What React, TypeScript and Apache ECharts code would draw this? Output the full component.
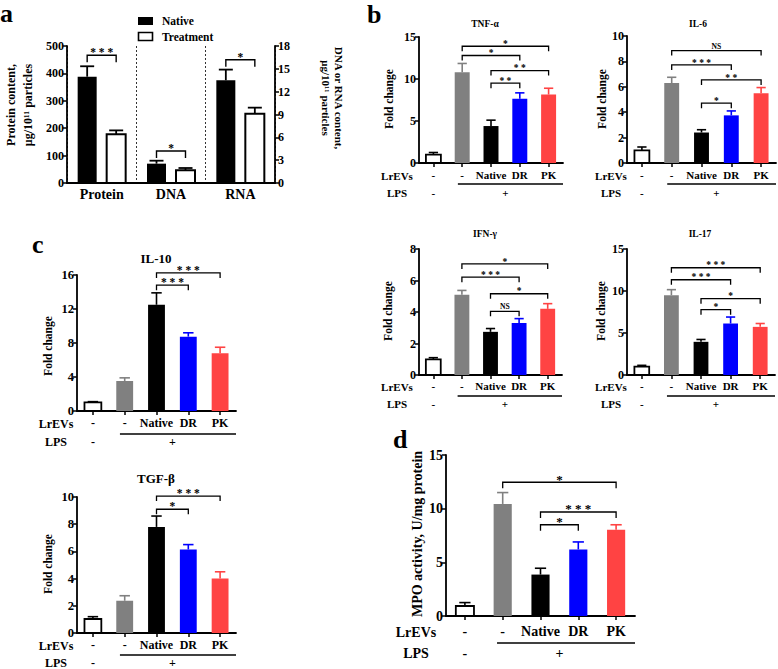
import React, { useEffect, useRef } from 'react';
import * as echarts from 'echarts';

const FONT = "'Liberation Serif', 'Times New Roman', Times, serif";

// ---------- Panel a ----------
const aCategories = ['Protein', 'DNA', 'RNA'];
const aAxisOf = [0, 1, 1]; // 0 = left axis (protein), 1 = right axis (DNA / RNA)
const aNative = [388, 2.54, 13.5];
const aNativeErr = [426, 2.93, 14.9];
const aTreatment = [178, 1.66, 9.1];
const aTreatmentErr = [192, 1.97, 9.9];
const aSig: [number, number, string][] = [[0, 466, '* * *'], [1, 4.2, '*'], [2, 16.2, '*']];

// ---------- Panels b, c, d ----------
const groupLabels = ['-', '-', 'Native', 'DR', 'PK'];

const tnfValues = [1.0, 10.8, 4.4, 7.65, 8.15];
const tnfErrTop = [1.25, 11.85, 5.1, 8.35, 8.9];
const tnfSig: [number, number, number, string][] = [[1, 4, 13.9, '*'], [1, 3, 12.8, '*'], [2, 4, 11.0, '* *'], [2, 3, 9.5, '* *']];

const il6Values = [1.0, 6.3, 2.4, 3.75, 5.5];
const il6ErrTop = [1.26, 6.75, 2.62, 4.1, 5.94];
const il6Sig: [number, number, number, string][] = [[1, 4, 8.85, 'NS'], [1, 3, 7.72, '* * *'], [2, 4, 6.54, '* *'], [2, 3, 4.71, '*']];

const ifnValues = [0.99, 5.09, 2.74, 3.3, 4.2];
const ifnErrTop = [1.1, 5.37, 2.95, 3.58, 4.53];
const ifnSig: [number, number, number, string][] = [[1, 4, 7.05, '*'], [1, 3, 6.21, '* * *'], [2, 4, 5.16, '*'], [2, 3, 4.04, 'NS']];

const il17Values = [1.0, 9.5, 3.95, 6.13, 5.73];
const il17ErrTop = [1.15, 10.16, 4.23, 6.9, 6.13];
const il17Sig: [number, number, number, string][] = [[1, 4, 12.77, '* * *'], [1, 3, 11.34, '* * *'], [2, 4, 9.09, '*'], [2, 3, 7.78, '*']];

const il10Values = [1.02, 3.52, 12.5, 8.75, 6.8];
const il10ErrTop = [1.1, 3.9, 13.9, 9.2, 7.5];
const il10Sig: [number, number, number, string][] = [[2, 4, 16.25, '* * *'], [2, 3, 14.8, '* * *']];

const tgfValues = [1.03, 2.37, 7.8, 6.14, 4.0];
const tgfErrTop = [1.2, 2.74, 8.6, 6.5, 4.5];
const tgfSig: [number, number, number, string][] = [[2, 4, 10.07, '* * *'], [2, 3, 9.1, '*']];

const mpoValues = [0.93, 10.44, 3.86, 6.2, 8.04];
const mpoErrTop = [1.25, 11.5, 4.45, 6.9, 8.5];
const mpoSig: [number, number, number, string][] = [[1, 4, 12.46, '*'], [2, 4, 9.69, '* * *'], [2, 3, 8.5, '*']];

// ---------- styles ----------
const FILLS = ['#ffffff', '#808080', '#000000', '#0000ff', '#ff4343'];
const STROKES = ['#000000', '', '', '', ''];
const ERR_COLORS = ['#000000', '#808080', '#000000', '#0000ff', '#ff4343'];

interface Panel {
  values: number[]; errs: number[]; sig: [number, number, number, string][];
  left: number; top: number; width: number; height: number; max: number; interval: number;
  title?: string; titleX?: number; titleY?: number; titleSize?: number;
  yName: string; yNameX: number; yNameY: number; yNameSize: number;
  tickSize: number; catSize: number; rowSize: number; sigSize: number; bracketTick: number;
  row1Y: number; lineY: number; row2Y: number; rowX: number; barFrac: number;
}

const panels: Panel[] = [
  { values: tnfValues, errs: tnfErrTop, sig: tnfSig, left: 419, top: 37, width: 144, height: 126, max: 15, interval: 5,
    title: 'TNF-\u03b1', titleX: 485, titleY: 23.5, titleSize: 9.5, yName: 'Fold change', yNameX: 389, yNameY: 99, yNameSize: 11.5,
    tickSize: 12, catSize: 11, rowSize: 11, sigSize: 9.5, bracketTick: 5, row1Y: 176, lineY: 184, row2Y: 193, rowX: 397, barFrac: 0.52 },
  { values: il6Values, errs: il6ErrTop, sig: il6Sig, left: 627, top: 36, width: 149, height: 127, max: 10, interval: 2,
    title: 'IL-6', titleX: 698, titleY: 23.5, titleSize: 9.5, yName: 'Fold change', yNameX: 602, yNameY: 99, yNameSize: 11.5,
    tickSize: 12, catSize: 11, rowSize: 11, sigSize: 9.5, bracketTick: 5, row1Y: 176, lineY: 184, row2Y: 193, rowX: 611, barFrac: 0.5 },
  { values: ifnValues, errs: ifnErrTop, sig: ifnSig, left: 419, top: 249, width: 143, height: 126, max: 8, interval: 2,
    title: 'IFN-\u03b3', titleX: 485, titleY: 233.5, titleSize: 9.5, yName: 'Fold change', yNameX: 388, yNameY: 311, yNameSize: 11.5,
    tickSize: 12, catSize: 11, rowSize: 11, sigSize: 9.5, bracketTick: 5, row1Y: 387, lineY: 396, row2Y: 404, rowX: 397, barFrac: 0.52 },
  { values: il17Values, errs: il17ErrTop, sig: il17Sig, left: 627, top: 249, width: 148, height: 126, max: 15, interval: 5,
    title: 'IL-17', titleX: 700, titleY: 233.5, titleSize: 9.5, yName: 'Fold change', yNameX: 601, yNameY: 311, yNameSize: 11.5,
    tickSize: 12, catSize: 11, rowSize: 11, sigSize: 9.5, bracketTick: 5, row1Y: 387, lineY: 396, row2Y: 404, rowX: 611, barFrac: 0.5 },
  { values: il10Values, errs: il10ErrTop, sig: il10Sig, left: 77, top: 275, width: 159, height: 136, max: 16, interval: 4,
    title: 'IL-10', titleX: 156, titleY: 258, titleSize: 13, yName: 'Fold change', yNameX: 48, yNameY: 346, yNameSize: 11.5,
    tickSize: 12.5, catSize: 12, rowSize: 12, sigSize: 11.5, bracketTick: 5, row1Y: 424, lineY: 434, row2Y: 442, rowX: 56, barFrac: 0.53 },
  { values: tgfValues, errs: tgfErrTop, sig: tgfSig, left: 77, top: 497, width: 159, height: 136, max: 10, interval: 2,
    title: 'TGF-\u03b2', titleX: 156, titleY: 478, titleSize: 13, yName: 'Fold change', yNameX: 48, yNameY: 564, yNameSize: 11.5,
    tickSize: 12.5, catSize: 12, rowSize: 12, sigSize: 11.5, bracketTick: 5, row1Y: 646, lineY: 655, row2Y: 663, rowX: 56, barFrac: 0.53 },
  { values: mpoValues, errs: mpoErrTop, sig: mpoSig, left: 446, top: 455, width: 189, height: 161, max: 15, interval: 5,
    yName: 'MPO activity, U/mg protein', yNameX: 417, yNameY: 534, yNameSize: 14,
    tickSize: 14, catSize: 14, rowSize: 14, sigSize: 13, bracketTick: 6, row1Y: 632, lineY: 643, row2Y: 653, rowX: 416, barFrac: 0.48 },
];

const txt = (text: string, x: number, y: number, size: number, o: any = {}) => {
  const style: any = {
    text, fill: '#000', fontFamily: FONT, fontWeight: 'bold', fontSize: size,
    align: o.align || 'center', verticalAlign: o.va || 'middle',
  };
  if (o.lineHeight) style.lineHeight = o.lineHeight;
  return { type: 'text', x, y, rotation: o.rotation || 0, silent: true, style };
};

function barRenderer(frac: number) {
  return (params: any, api: any) => {
    const idx = params.dataIndex;
    const cat = api.value(0);
    const base = api.coord([cat, 0]);
    const top = api.coord([cat, api.value(1)]);
    const err = api.coord([cat, api.value(2)]);
    const band = api.size([1, 0])[0];
    const w = band * frac;
    const cw = w * 0.62;
    const cx = top[0];
    const ec = ERR_COLORS[idx];
    const rs: any = { fill: FILLS[idx] };
    if (STROKES[idx]) { rs.stroke = STROKES[idx]; rs.lineWidth = 1.8; }
    return {
      type: 'group',
      children: [
        { type: 'line', shape: { x1: cx, y1: top[1], x2: cx, y2: err[1] }, style: { stroke: ec, lineWidth: 1.6 } },
        { type: 'line', shape: { x1: cx - cw / 2, y1: err[1], x2: cx + cw / 2, y2: err[1] }, style: { stroke: ec, lineWidth: 1.6 } },
        { type: 'rect', shape: { x: cx - w / 2, y: top[1], width: w, height: base[1] - top[1] }, style: rs },
      ],
    };
  };
}

function sigText(label: string, x: number, y: number, size: number) {
  if (label === 'NS') return txt('NS', x, y - 0.5, size * 0.8, { va: 'bottom' });
  return txt(label, x, y - size * 0.25, size);
}

function bracketRenderer(labels: string[], size: number, tick: number) {
  return (params: any, api: any) => {
    const a = api.coord([api.value(0), api.value(2)]);
    const b = api.coord([api.value(1), api.value(2)]);
    return {
      type: 'group',
      children: [
        { type: 'polyline', shape: { points: [[a[0], a[1] + tick], [a[0], a[1]], [b[0], b[1]], [b[0], b[1] + tick]] },
          style: { stroke: '#000', fill: 'none', lineWidth: 1.3 } },
        sigText(labels[params.dataIndex], (a[0] + b[0]) / 2, a[1], size),
      ],
    };
  };
}

function pairRenderer(offset: number, widthPx: number, fill: string, stroke: string) {
  return (params: any, api: any) => {
    const cat = api.value(0);
    const base = api.coord([cat, 0]);
    const top = api.coord([cat, api.value(1)]);
    const err = api.coord([cat, api.value(2)]);
    const cx = top[0] + offset;
    const rs: any = { fill };
    if (stroke) { rs.stroke = stroke; rs.lineWidth = 2; }
    return {
      type: 'group',
      children: [
        { type: 'line', shape: { x1: cx, y1: top[1], x2: cx, y2: err[1] }, style: { stroke: '#000', lineWidth: 1.8 } },
        { type: 'line', shape: { x1: cx - 7, y1: err[1], x2: cx + 7, y2: err[1] }, style: { stroke: '#000', lineWidth: 1.8 } },
        { type: 'rect', shape: { x: cx - widthPx / 2, y: top[1], width: widthPx, height: base[1] - top[1] }, style: rs },
      ],
    };
  };
}

function pairBracketRenderer(labels: string[], half: number, size: number, tick: number) {
  return (params: any, api: any) => {
    const p = api.coord([api.value(0), api.value(1)]);
    return {
      type: 'group',
      children: [
        { type: 'polyline', shape: { points: [[p[0] - half, p[1] + tick], [p[0] - half, p[1]], [p[0] + half, p[1]], [p[0] + half, p[1] + tick]] },
          style: { stroke: '#000', fill: 'none', lineWidth: 1.4 } },
        sigText(labels[params.dataIndex], p[0], p[1], size),
      ],
    };
  };
}

function buildOption() {
  const axisLine = { show: true, lineStyle: { color: '#000', width: 1.8 } };
  const axisTick = { show: true, length: 4, lineStyle: { color: '#000', width: 1.5 } };
  const grid: any[] = [];
  const xAxis: any[] = [];
  const yAxis: any[] = [];
  const series: any[] = [];
  const graphic: any[] = [];

  // ----- panel a -----
  grid.push({ left: 67, top: 46, width: 208, height: 137 });
  xAxis.push({
    type: 'category', gridIndex: 0, data: aCategories, axisLine, axisTick: { show: false },
    axisLabel: { color: '#000', fontFamily: FONT, fontWeight: 'bold', fontSize: 14, margin: 4, interval: 0 },
    splitLine: { show: true, interval: 0, lineStyle: { color: '#333', width: 1, type: [2, 2] } },
  });
  const aLabel = { color: '#000', fontFamily: FONT, fontWeight: 'bold', fontSize: 12, margin: 3 };
  yAxis.push({ type: 'value', gridIndex: 0, min: 0, max: 500, interval: 100, axisLine, axisTick, axisLabel: aLabel, splitLine: { show: false } });
  yAxis.push({ type: 'value', gridIndex: 0, position: 'right', min: 0, max: 18, interval: 3, axisLine, axisTick, axisLabel: aLabel, splitLine: { show: false } });
  [0, 1].forEach((axisIdx) => {
    const cats = aCategories.map((_, i) => i).filter((i) => aAxisOf[i] === axisIdx);
    series.push({ type: 'custom', name: 'Native', xAxisIndex: 0, yAxisIndex: axisIdx, clip: false, encode: { x: 0, y: 1 },
      data: cats.map((i) => [i, aNative[i], aNativeErr[i]]), renderItem: pairRenderer(-14.5, 19, '#000000', '') });
    series.push({ type: 'custom', name: 'Treatment', xAxisIndex: 0, yAxisIndex: axisIdx, clip: false, encode: { x: 0, y: 1 },
      data: cats.map((i) => [i, aTreatment[i], aTreatmentErr[i]]), renderItem: pairRenderer(14.5, 19, '#ffffff', '#000000') });
    const sig = aSig.filter((s) => aAxisOf[s[0]] === axisIdx);
    series.push({ type: 'custom', name: 'sig', xAxisIndex: 0, yAxisIndex: axisIdx, clip: false, encode: { x: 0, y: 1 },
      data: sig.map((s) => [s[0], s[1]]), renderItem: pairBracketRenderer(sig.map((s) => s[2]), 14.5, 11.5, 7) });
  });
  graphic.push({ type: 'rect', shape: { x: 138, y: 17, width: 15, height: 8 }, style: { fill: '#000' } });
  graphic.push(txt('Native', 162, 21, 11.5, { align: 'left' }));
  graphic.push({ type: 'rect', shape: { x: 138.5, y: 32.5, width: 14, height: 8 }, style: { fill: '#fff', stroke: '#000', lineWidth: 1.6 } });
  graphic.push(txt('Treatment', 162, 36.5, 11.5, { align: 'left' }));
  graphic.push(txt('Protein content,\n\u03bcg/10\u00b9\u00b9 particles', 19, 105, 12, { rotation: Math.PI / 2, lineHeight: 17 }));
  graphic.push(txt('DNA or RNA content,\n\u03bcg/10\u00b9\u00b9 particles', 332.5, 98, 11, { rotation: -Math.PI / 2, lineHeight: 13 }));

  // ----- panels b, c, d -----
  panels.forEach((p, k) => {
    const g = k + 1;
    const yi = k + 2;
    const band = p.width / groupLabels.length;
    grid.push({ left: p.left, top: p.top, width: p.width, height: p.height });
    xAxis.push({
      type: 'category', gridIndex: g, data: groupLabels, axisLine,
      axisTick: { show: true, alignWithLabel: true, length: 4, lineStyle: { color: '#000', width: 1.5 } },
      axisLabel: { color: '#000', fontFamily: FONT, fontWeight: 'bold', fontSize: p.catSize, interval: 0,
        margin: p.row1Y - (p.top + p.height) - p.catSize / 2 - 1 },
    });
    yAxis.push({
      type: 'value', gridIndex: g, min: 0, max: p.max, interval: p.interval, axisLine, axisTick,
      axisLabel: { color: '#000', fontFamily: FONT, fontWeight: 'bold', fontSize: p.tickSize, margin: 3 },
      splitLine: { show: false },
    });
    series.push({ type: 'custom', name: p.title || 'MPO', xAxisIndex: g, yAxisIndex: yi, clip: false, encode: { x: 0, y: 1 },
      data: p.values.map((v, i) => [i, v, p.errs[i]]), renderItem: barRenderer(p.barFrac) });
    series.push({ type: 'custom', name: 'sig', xAxisIndex: g, yAxisIndex: yi, clip: false, encode: { x: 0, y: 2 },
      data: p.sig.map((s) => [s[0], s[1], s[2]]), renderItem: bracketRenderer(p.sig.map((s) => s[3]), p.sigSize, p.bracketTick) });

    const lh = p.rowSize * 0.9;
    if (p.title) graphic.push(txt(p.title, p.titleX!, p.titleY!, p.titleSize!));
    graphic.push(txt(p.yName, p.yNameX, p.yNameY, p.yNameSize, { rotation: Math.PI / 2 }));
    graphic.push(txt('LrEVs', p.rowX, p.row1Y, p.rowSize, { lineHeight: lh }));
    graphic.push(txt('LPS', p.rowX, p.row2Y, p.rowSize, { lineHeight: lh }));
    graphic.push(txt('-', p.left + 0.5 * band, p.row2Y, p.rowSize, { lineHeight: lh }));
    graphic.push(txt('+', p.left + 3 * band, p.row2Y, p.rowSize, { lineHeight: lh }));
    graphic.push({ type: 'line', shape: { x1: p.left + 1.35 * band, y1: p.lineY, x2: p.left + p.width, y2: p.lineY },
      style: { stroke: '#000', lineWidth: 1.5 } });
  });

  // panel letters (middle = baseline - 0.34em)
  const L = 26;
  graphic.push(txt('a', 0, 22 - 0.34 * L, L, { align: 'left' }));
  graphic.push(txt('b', 367, 23.5 - 0.34 * L, L, { align: 'left' }));
  graphic.push(txt('c', 32, 253 - 0.34 * L, L, { align: 'left' }));
  graphic.push(txt('d', 393, 448 - 0.34 * L, L, { align: 'left' }));

  return {
    animation: false,
    backgroundColor: '#ffffff',
    textStyle: { fontFamily: FONT },
    grid, xAxis, yAxis, series,
    graphic: { elements: graphic },
  };
}

export default function App() {
  const ref = useRef<HTMLDivElement>(null);
  useEffect(() => {
    document.body.style.margin = '0';
    const chart = echarts.init(ref.current!, undefined, { renderer: 'svg', width: 778, height: 669 });
    chart.setOption(buildOption() as any);
    return () => chart.dispose();
  }, []);
  return <div ref={ref} style={{ position: 'absolute', left: 0, top: 0, width: 778, height: 669, background: '#fff' }} />;
}
